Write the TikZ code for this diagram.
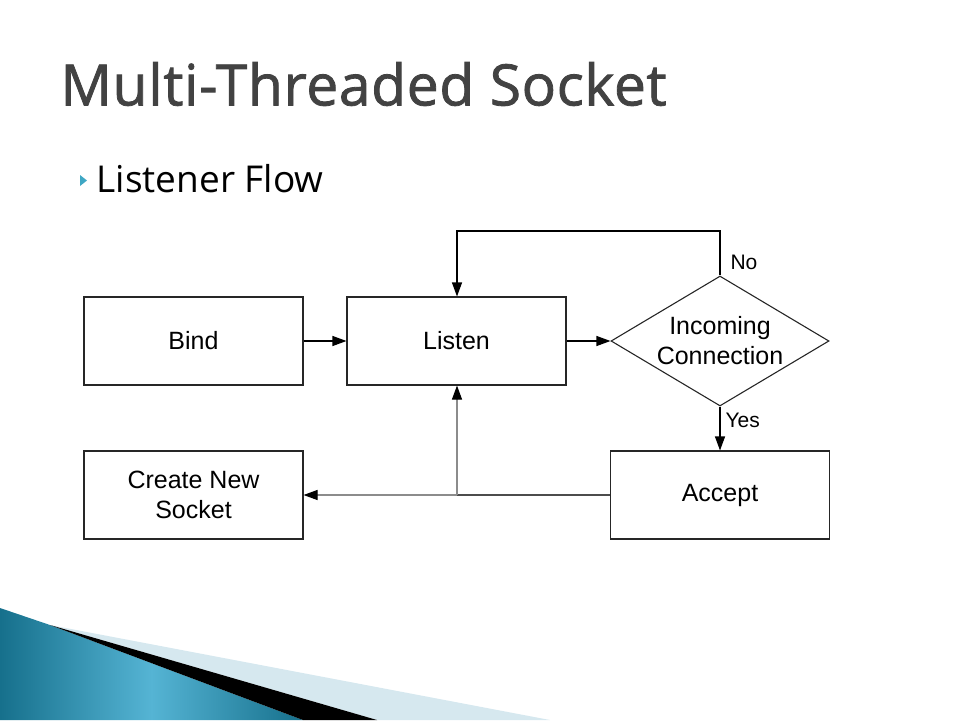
\documentclass[tikz,border=0pt]{standalone}
\usepackage{fontspec}
\setmainfont{Liberation Sans}
\newfontfamily\titlefont{Open Sans}
\newfontfamily\headfont[FakeBold=1.4,LetterSpace=1.1]{Open Sans}
\usetikzlibrary{shapes.geometric,arrows.meta}
\definecolor{titlegray}{HTML}{424242}
\definecolor{tealdark}{HTML}{16708C}
\definecolor{teallight}{HTML}{55B4D4}
\definecolor{swooshpale}{HTML}{D6E8EF}
\definecolor{bulletteal}{HTML}{3FA7C4}
\begin{document}
\begin{tikzpicture}[x=1pt,y=-1pt,
  stepbox/.style={draw=black!85,line width=1.1pt,minimum width=219pt,minimum height=88pt,
    inner sep=0pt,align=center,font=\fontsize{25}{30}\selectfont},
  decision/.style={diamond,draw=black!85,line width=1.1pt,minimum width=218pt,minimum height=130pt,
    aspect=1.68,inner sep=0pt,align=center,font=\fontsize{25}{30}\selectfont},
  flow/.style={-{Triangle[length=14pt,width=10pt,color=black]},line width=1.1pt},
  tag/.style={anchor=west,font=\fontsize{21}{22}\selectfont}]

\useasboundingbox (0,0) rectangle (960,720);

% swoosh at the bottom
\shade[left color=tealdark,right color=tealdark,middle color=teallight]
  (0,608) -- (50,625) -- (303,720) -- (0,720) -- cycle;
\fill[swooshpale] (50,625) -- (550,720) -- (377,720) -- cycle;
\fill[black] (50,625) -- (377,720) -- (303,720) -- cycle;

% title and bullet
\node[anchor=west,text=titlegray,font=\headfont\fontsize{57}{60}\selectfont] (title) at (57,84) {Multi-Threaded Socket};
\fill[bulletteal] (80,175) -- (87,180.5) -- (80,186) -- cycle;
\node[anchor=west,font=\titlefont\fontsize{37}{40}\selectfont] (sub) at (93,179) {Listener Flow};

% flow chart
\node[stepbox] (bind) at (193.5,341) {Bind};
\node[stepbox] (listen) at (456.5,341) {Listen};
\node[decision] (incoming) at (720,341) {Incoming\\Connection};
\node[stepbox] (create) at (193.5,495) {Create New\\Socket};
\node[stepbox] (accept) at (720,495) {Accept};
\coordinate (loop) at (457,231);
\coordinate (split) at (457,495);

\draw[flow] (bind) -- (listen);
\draw[flow] (listen) -- (incoming);
\draw[flow] (incoming.north) |- (loop) -- (listen.north -| loop);
\draw[flow] (incoming.south) -- (accept.north);
\draw[line width=1.1pt,black!70] (accept.west) -- (split);
\draw[flow,black!45] (split) -- (create.east);
\draw[flow,black!45] (split) -- (listen.south -| split);

\node[tag] (no) at (727,262) {No};
\node[tag] (yes) at (722,420) {Yes};

\end{tikzpicture}
\end{document}
